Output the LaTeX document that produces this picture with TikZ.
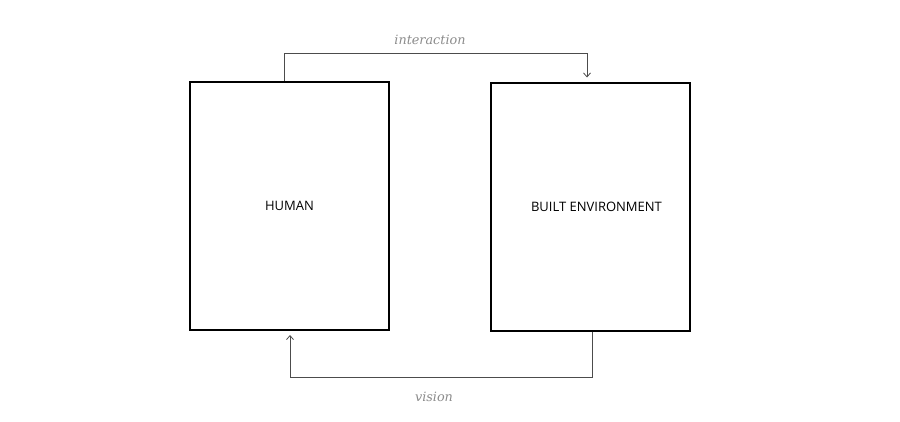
\documentclass[tikz,border=0pt]{standalone}
\usepackage{fontspec}
\setmainfont{Open Sans}
\newfontfamily\slabfont{DejaVu Serif}
\usetikzlibrary{arrows.meta}
\begin{document}
\begin{tikzpicture}[x=1pt,y=-1pt,
  blockbox/.style={draw=black,line width=2pt,minimum width=199pt,minimum height=248pt,inner sep=0pt,font=\fontsize{13}{15}\selectfont},
  linkline/.style={draw=black!70,line width=0.8pt,-{Straight Barb[length=4pt,width=7pt]}},
  linklabel/.style={text=black!45,font=\slabfont\itshape\fontsize{12.8}{14}\selectfont}]
\useasboundingbox[fill=white] (0,0) rectangle (900,421);
\node[blockbox] (human) at (289.5,206) {HUMAN};
\node[blockbox] (built) at (590.5,206.5) {\hspace*{12pt}BUILT ENVIRONMENT};
\coordinate (i1) at (284,53);
\coordinate (i2) at (587,53);
\coordinate (v1) at (592,377);
\coordinate (v2) at (290,377);
\draw[linkline] (human.north -| i1) -- (i1) -- (i2) -- ([yshift=4pt]built.north -| i2);
\draw[linkline] (built.south -| v1) -- (v1) -- (v2) -- ([yshift=-4pt]human.south -| v2);
\node[linklabel] (interaction) at (430,40) {interaction};
\node[linklabel] (vision) at (434,397) {vision};
\end{tikzpicture}
\end{document}
